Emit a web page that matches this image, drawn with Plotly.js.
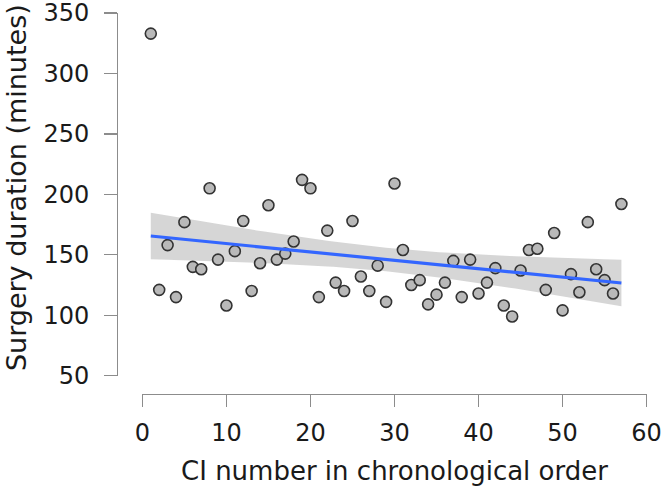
<!DOCTYPE html>
<html>
<head>
<meta charset="utf-8">
<script src="https://cdn.plot.ly/plotly-3.0.1.min.js"></script>
<style>html,body{margin:0;padding:0;background:#fff;}#chart{width:662px;height:492px;}</style>
</head>
<body>
<div id="chart"></div>
<script>
// CI number (chronological order)
var ciNumber = [];
for (var i = 1; i <= 57; i++) ciNumber.push(i);
// Surgery duration (minutes)
var duration = [333,121,158,115,177,140,138,205,146,108,
                153,178,120,143,191,146,151,161,212,205,
                115,170,127,120,178,132,120,141,111,209,
                154,125,129,109,117,127,145,115,146,118,
                127,139,108,99,137,154,155,121,168,104,
                134,119,177,138,129,118,192];
var xTicks = [0,10,20,30,40,50,60];
var yTicks = [50,100,150,200,250,300,350];
var xTitle = 'CI number in chronological order';
var yTitle = 'Surgery duration (minutes)';

// linear fit with 95% confidence band (as geom_smooth(method = "lm"))
var n = ciNumber.length;
var mx = 0, my = 0;
for (var k = 0; k < n; k++) { mx += ciNumber[k]; my += duration[k]; }
mx /= n; my /= n;
var sxx = 0, sxy = 0;
for (k = 0; k < n; k++) { sxx += (ciNumber[k]-mx)*(ciNumber[k]-mx); sxy += (ciNumber[k]-mx)*(duration[k]-my); }
var slope = sxy / sxx, intercept = my - slope*mx;
var sse = 0;
for (k = 0; k < n; k++) { var r = duration[k] - (intercept + slope*ciNumber[k]); sse += r*r; }
var s = Math.sqrt(sse/(n-2));
var tcrit = 2.004;
var fx = [], fy = [], lo = [], hi = [];
var xmin = ciNumber[0], xmax = ciNumber[n-1];
for (k = 0; k <= 80; k++) {
  var xv = xmin + (xmax - xmin)*k/80;
  var yv = intercept + slope*xv;
  var se = s*Math.sqrt(1/n + (xv-mx)*(xv-mx)/sxx);
  fx.push(xv); fy.push(yv); lo.push(yv - tcrit*se); hi.push(yv + tcrit*se);
}
var bandX = fx.concat(fx.slice().reverse());
var bandY = hi.concat(lo.slice().reverse());

var font = 'DejaVu Sans, sans-serif';
var axisColor = '#8c8c8c';
var textColor = '#1a1a1a';

var traces = [
  {x: bandX, y: bandY, type: 'scatter', mode: 'lines', fill: 'toself',
   fillcolor: 'rgba(153,153,153,0.4)', line: {width: 0}, hoverinfo: 'skip', showlegend: false},
  {x: ciNumber, y: duration, type: 'scatter', mode: 'markers',
   marker: {size: 11, color: '#b9b9b9', line: {color: '#333333', width: 1.6}}, showlegend: false},
  {x: fx, y: fy, type: 'scatter', mode: 'lines', line: {color: '#3366FF', width: 3.2}, showlegend: false}
];

var layout = {
  width: 662, height: 492,
  margin: {l: 117, r: 10, t: 13, b: 98},
  paper_bgcolor: '#ffffff', plot_bgcolor: '#ffffff',
  font: {family: font, color: textColor, size: 24},
  xaxis: {
    domain: [0.0473, 0.9901], range: [-0.01, 60.01], anchor: 'free', position: 0,
    tickvals: xTicks, ticktext: xTicks.map(String),
    showline: true, linecolor: axisColor, linewidth: 1.2,
    ticks: 'outside', ticklen: 12, tickcolor: axisColor, tickwidth: 1.2,
    ticklabelstandoff: 5, ticklabeloverflow: 'allow',
    showgrid: false, zeroline: false,
    tickfont: {family: font, size: 24, color: textColor},
    title: {text: xTitle, font: {family: font, size: 26, color: textColor}, standoff: 15}
  },
  yaxis: {
    domain: [0.048, 1.0], range: [49.95, 350.05], anchor: 'free', position: 0,
    tickvals: yTicks, ticktext: yTicks.map(String),
    showline: true, linecolor: axisColor, linewidth: 1.2,
    ticks: 'outside', ticklen: 13, tickcolor: axisColor, tickwidth: 1.2,
    ticklabelstandoff: 10, ticklabeloverflow: 'allow',
    showgrid: false, zeroline: false,
    tickfont: {family: font, size: 24, color: textColor}
  },
  annotations: [{
    text: yTitle, textangle: -90, showarrow: false,
    xref: 'paper', yref: 'paper', x: -0.1888, y: 0.543,
    xanchor: 'center', yanchor: 'middle',
    font: {family: font, size: 27, color: textColor}
  }]
};

Plotly.newPlot('chart', traces, layout, {displayModeBar: false, staticPlot: true});
</script>
</body>
</html>
